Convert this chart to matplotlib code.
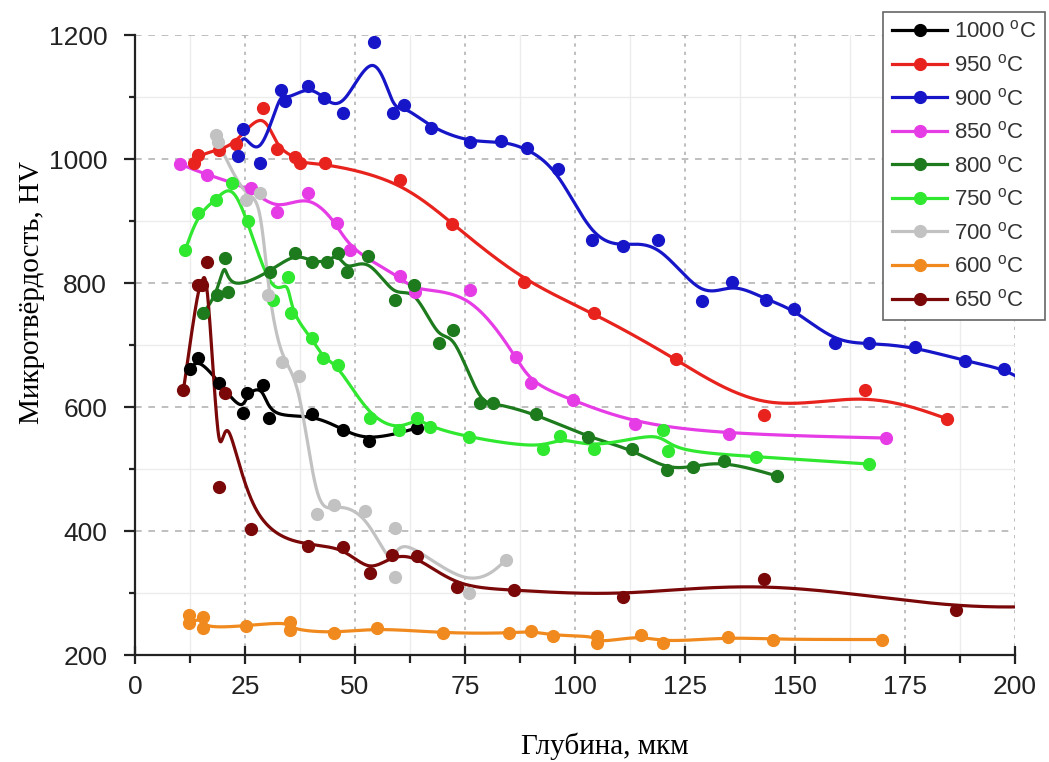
import numpy as np
import matplotlib
matplotlib.use("Agg")
import matplotlib.pyplot as plt
from matplotlib.lines import Line2D
from matplotlib.ticker import MultipleLocator

plt.rcParams['font.family'] = ['Liberation Sans', 'DejaVu Sans']
plt.rcParams['mathtext.fontset'] = 'custom'
plt.rcParams['mathtext.rm'] = 'Liberation Sans'

# depth (um) / microhardness (HV) for each treatment temperature
x_1000 = [12.5, 14.4, 19.2, 24.5, 25.4, 29.2, 30.5, 40.2, 47.3, 53.2, 64.0]
y_1000 = [661, 679, 639, 591, 623, 635, 582, 589, 563, 545, 566]

x_950 = [13.5, 14.4, 19.0, 23.0, 29.2, 32.2, 36.4, 37.5, 43.2, 60.2, 72.1, 88.3,
         104.3, 122.95, 143.0, 165.9, 184.6]
y_950 = [994, 1006, 1015, 1025, 1083, 1016, 1004, 993, 993, 966, 896, 802,
         752, 678, 587, 627, 581]

x_900 = [23.3, 24.5, 28.3, 33.1, 34.2, 39.4, 43.0, 47.2, 54.4, 58.7, 61.1, 67.3,
         76.1, 83.2, 89.0, 96.1, 103.9, 111.0, 118.9, 128.9, 135.6, 143.4, 149.8,
         159.1, 166.9, 177.3, 188.6, 197.6, 203.0]
y_900 = [1005, 1049, 994, 1111, 1094, 1118, 1099, 1075, 1189, 1075, 1087, 1050,
         1027, 1029, 1018, 984, 870, 859, 869, 771, 802, 773, 758,
         704, 703, 697, 674, 662, 638]

x_850 = [10.2, 16.4, 26.3, 32.2, 39.4, 45.8, 48.9, 60.2, 63.6, 76.1, 86.7, 90.0,
         99.5, 113.6, 135.1, 170.6]
y_850 = [992, 974, 954, 915, 945, 897, 853, 811, 786, 788, 680, 638,
         611, 573, 556, 550]

x_800 = [15.4, 18.6, 20.5, 21.2, 30.7, 36.4, 40.2, 43.6, 46.2, 48.1, 53.0, 59.1,
         63.3, 69.2, 72.2, 78.3, 81.3, 91.1, 103.0, 113.0, 120.8, 126.9, 133.9, 145.8]
y_800 = [751, 781, 841, 786, 818, 849, 834, 834, 849, 818, 844, 773,
         797, 704, 724, 606, 607, 589, 551, 532, 499, 504, 513, 489]

x_750 = [11.4, 14.4, 18.4, 22.0, 25.6, 31.4, 34.8, 35.5, 40.2, 42.7, 46.2, 53.3,
         60.1, 64.2, 67.0, 75.8, 92.8, 96.7, 104.3, 119.9, 121.2, 141.1, 166.9]
y_750 = [853, 913, 934, 962, 900, 773, 810, 751, 711, 679, 668, 583,
         563, 583, 568, 551, 532, 553, 532, 563, 529, 520, 508]

x_700 = [18.4, 18.8, 25.2, 28.4, 30.3, 33.3, 37.3, 41.3, 45.2, 52.3, 59.1, 59.1,
         75.9, 84.3]
y_700 = [1039, 1028, 934, 945, 781, 673, 650, 427, 442, 433, 326, 405,
         300, 353]

x_600 = [12.3, 12.3, 15.4, 15.4, 25.2, 35.2, 35.2, 45.2, 55.1, 70.1, 85.1, 90.1,
         95.1, 105.1, 105.1, 114.9, 120.1, 134.8, 144.9, 169.7]
y_600 = [264, 251, 261, 243, 247, 254, 241, 235, 244, 235, 235, 239,
         231, 231, 219, 232, 220, 229, 225, 225]

x_650 = [11.0, 14.4, 15.2, 16.4, 19.2, 20.5, 26.3, 39.4, 47.3, 53.3, 58.3, 64.2,
         73.1, 86.1, 111.0, 143.0, 186.6, 210.0]
y_650 = [627, 797, 797, 834, 471, 622, 403, 376, 375, 332, 361, 360,
         309, 305, 294, 322, 273, 280]

labels = ['1000', '950', '900', '850', '800', '750', '700', '600', '650']
colors = ['#000000', '#e8231e', '#1616c8', '#e63ce6', '#1d7a1d', '#30e830',
          '#c2c2c2', '#f08a1e', '#7a0808']
series = [(x_1000, y_1000), (x_950, y_950), (x_900, y_900), (x_850, y_850),
          (x_800, y_800), (x_750, y_750), (x_700, y_700), (x_600, y_600),
          (x_650, y_650)]


def bspline(xs, ys, n=40):
    # uniform cubic B-spline, points used as control points, clamped ends
    p = np.column_stack([xs, ys]).astype(float)
    p = np.vstack([p[:1], p[:1], p, p[-1:], p[-1:]])
    t = np.linspace(0, 1, n, endpoint=False)[:, None]
    b0 = (1 - t) ** 3 / 6
    b1 = (3 * t ** 3 - 6 * t ** 2 + 4) / 6
    b2 = (-3 * t ** 3 + 3 * t ** 2 + 3 * t + 1) / 6
    b3 = t ** 3 / 6
    segs = [b0 * p[i] + b1 * p[i + 1] + b2 * p[i + 2] + b3 * p[i + 3]
            for i in range(len(p) - 3)]
    curve = np.vstack(segs + [p[-1:]])
    return curve[:, 0], curve[:, 1]


fig = plt.figure(figsize=(10.49, 7.62), dpi=100)
ax = fig.add_axes([0.1287, 0.1404, 0.8389, 0.8136])

handles = []
for (xs, ys), c, lab in zip(series, colors, labels):
    cx, cy = bspline(xs, ys)
    ax.plot(cx, cy, color=c, lw=2.3, zorder=3)
    ax.plot(xs, ys, 'o', color=c, ms=8.5, mec=c, zorder=4)
    handles.append(Line2D([], [], color=c, lw=2.3, marker='o', ms=8.5,
                          label=lab + r' $^{\mathrm{o}}$C'))

ax.set_xlim(0, 200)
ax.set_ylim(200, 1200)
ax.xaxis.set_major_locator(MultipleLocator(25))
ax.xaxis.set_minor_locator(MultipleLocator(12.5))
ax.yaxis.set_major_locator(MultipleLocator(200))
ax.yaxis.set_minor_locator(MultipleLocator(100))

ax.grid(which='minor', color='#ececec', lw=1.0, ls='-')
ax.grid(which='major', axis='x', color='#b4b4b4', lw=1.2, ls=(0, (2, 3)))
ax.grid(which='major', axis='y', color='#b4b4b4', lw=1.2, ls=(0, (4, 4)))
ax.set_axisbelow(True)

for s in ['top', 'right']:
    ax.spines[s].set_visible(False)
for s in ['left', 'bottom']:
    ax.spines[s].set_linewidth(1.6)
    ax.spines[s].set_color('#222222')

ax.tick_params(axis='both', which='major', labelsize=19, colors='#222222',
               width=1.6, labelcolor='#222222')
ax.tick_params(axis='x', which='major', direction='inout', length=13, pad=8)
ax.tick_params(axis='x', which='minor', direction='out', length=6, width=1.6,
               color='#222222')
ax.tick_params(axis='y', which='major', direction='out', length=8, pad=12)
ax.tick_params(axis='y', which='minor', direction='out', length=4, width=1.6,
               color='#222222')

ax.set_xlabel('Глубина, мкм', fontsize=21, family='Liberation Serif')
ax.set_ylabel('Микротвёрдость, HV', fontsize=21, family='Liberation Serif')
ax.xaxis.set_label_coords(0.534, -0.125)
ax.yaxis.set_label_coords(-0.102, 0.585)

leg = ax.legend(handles=handles, loc='upper left',
                bbox_to_anchor=(883 / 1049, 1 - 12 / 762),
                bbox_transform=fig.transFigure, fontsize=16,
                handlelength=2.5, handletextpad=0.3, labelspacing=0.52,
                borderpad=0.4, borderaxespad=0, fancybox=False,
                framealpha=1, edgecolor='#666666')
leg.get_frame().set_linewidth(1.2)
for t in leg.get_texts():
    t.set_color('#333333')

fig.savefig('out.png', dpi=100)
